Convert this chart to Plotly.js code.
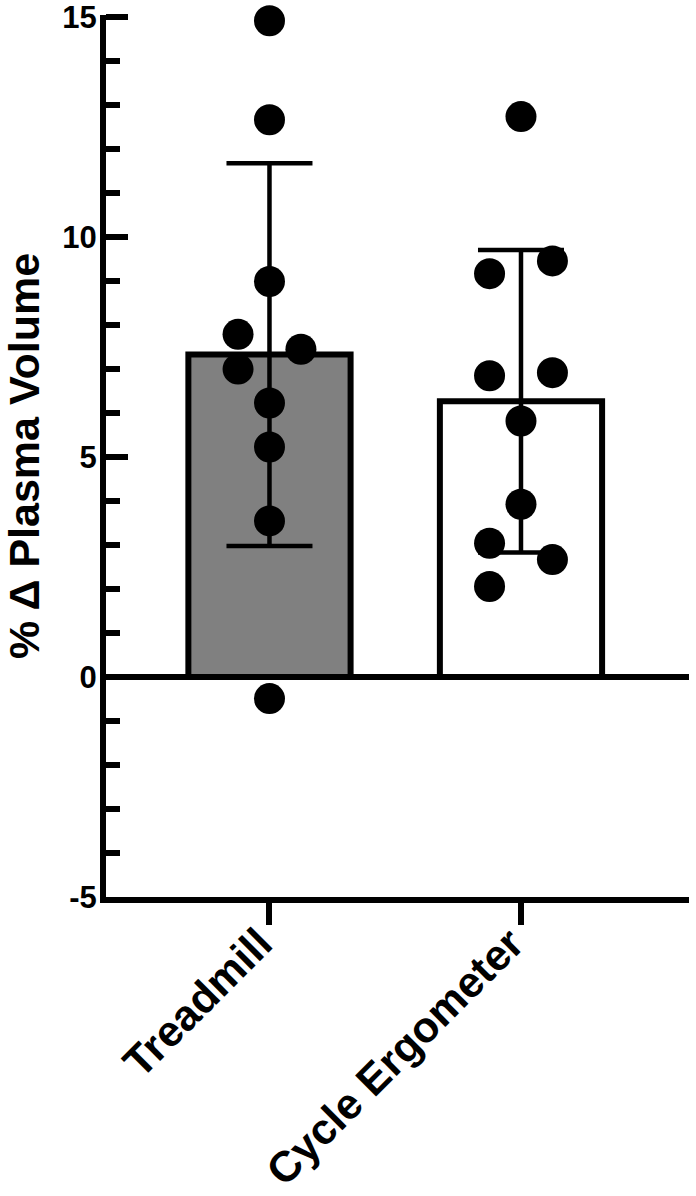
<!DOCTYPE html>
<html>
<head>
<meta charset="utf-8">
<script src="https://cdn.plot.ly/plotly-3.0.1.min.js"></script>
<style>html,body{margin:0;padding:0;background:#fff;}#chart{width:696px;height:1196px;}</style>
</head>
<body>
<div id="chart"></div>
<script>
// ---- data ----
const categories = ["Treadmill", "Cycle Ergometer"];
const barMeans = [7.33, 6.27];
const barSD = [4.35, 3.44];
const barColors = ["#808080", "#ffffff"];

const treadmillValues = [14.92, 12.67, 8.99, 7.79, 7.45, 7.0, 6.23, 5.23, 3.55, -0.49];
const treadmillJitter = [0, 0, 0, -1, 1, -1, 0, 0, 0, 0];
const cycleValues = [12.74, 9.46, 9.17, 6.92, 6.85, 5.82, 3.93, 3.04, 2.67, 2.06];
const cycleJitter = [0, 1, -1, 1, -1, 0, 0, -1, 1, -1];

const yTickVals = [-5, 0, 5, 10, 15];
const yTickText = ["-5", "0", "5", "10", "15"];

// ---- build ----
const jitterStep = 0.125;
const catIdx = categories.map((c, i) => i);
const FONT = "Liberation Sans, Arial, Helvetica, sans-serif";

const traces = [
  {
    type: "bar",
    x: catIdx,
    y: barMeans,
    width: 0.645,
    cliponaxis: false,
    marker: { color: barColors, line: { color: "#000", width: 6 } },
    error_y: { type: "data", array: barSD, visible: true, color: "#000", thickness: 4.5, width: 43 },
    hoverinfo: "skip",
    showlegend: false
  },
  {
    type: "scatter",
    mode: "markers",
    cliponaxis: false,
    x: treadmillValues.map((v, i) => catIdx[0] + treadmillJitter[i] * jitterStep),
    y: treadmillValues,
    marker: { color: "#000", size: 31, line: { width: 0 } },
    showlegend: false
  },
  {
    type: "scatter",
    mode: "markers",
    cliponaxis: false,
    x: cycleValues.map((v, i) => catIdx[1] + cycleJitter[i] * jitterStep),
    y: cycleValues,
    marker: { color: "#000", size: 31, line: { width: 0 } },
    showlegend: false
  }
];

const layout = {
  width: 696,
  height: 1196,
  margin: { l: 106, r: 7, t: 15, b: 299 },
  paper_bgcolor: "#fff",
  plot_bgcolor: "#fff",
  showlegend: false,
  font: { family: FONT, color: "#000", weight: "bold" },
  xaxis: {
    range: [-0.65, 1.668],
    tickvals: catIdx,
    ticktext: categories,
    tickangle: -45,
    tickfont: { family: FONT, size: 43, color: "#000", weight: "bold" },
    ticklabelstandoff: -24,
    ticklabelshift: -10,
    ticklabeloverflow: "allow",
    ticks: "outside",
    ticklen: 22,
    tickwidth: 6,
    tickcolor: "#000",
    showline: true,
    linewidth: 6,
    linecolor: "#000",
    showgrid: false,
    zeroline: false,
    automargin: false,
    fixedrange: true
  },
  yaxis: {
    range: [-5, 15.05],
    tickvals: yTickVals,
    ticktext: yTickText,
    tickfont: { family: FONT, size: 31, color: "#000", weight: "bold" },
    ticklabelstandoff: -3,
    ticklabeloverflow: "allow",
    ticks: "inside",
    ticklen: 22,
    tickwidth: 6,
    tickcolor: "#000",
    minor: { ticks: "inside", dtick: 1, ticklen: 14, tickwidth: 6, tickcolor: "#000", showgrid: false },
    showline: true,
    linewidth: 6,
    linecolor: "#000",
    showgrid: false,
    zeroline: true,
    zerolinewidth: 6,
    zerolinecolor: "#000",
    automargin: false,
    title: { text: "% Δ Plasma Volume", font: { family: FONT, size: 43, color: "#000", weight: "bold" }, standoff: 18 },
    fixedrange: true
  }
};

Plotly.newPlot("chart", traces, layout, { displayModeBar: false, staticPlot: true });
</script>
</body>
</html>
